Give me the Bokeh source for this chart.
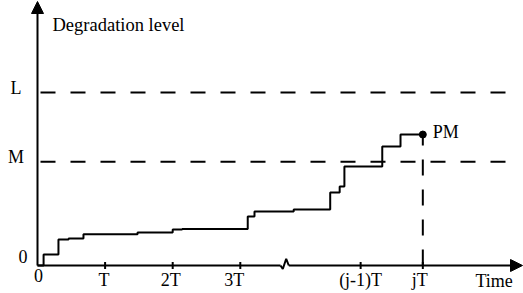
from bokeh.plotting import figure
from bokeh.models import Arrow, NormalHead, LabelSet, ColumnDataSource
from bokeh.core.properties import value
from bokeh.embed import file_html
from bokeh.resources import INLINE
import numpy as np

# ---- data ----
step_t = [0, 0.09, 0.31, 0.46, 0.68, 1.48, 2.00, 2.14, 3.11, 3.21, 3.79, 4.33, 4.47, 4.54, 5.10, 5.37, 5.70]
step_level = [0, 6.4, 15.0, 15.6, 18.0, 19.1, 20.8, 21.1, 28.3, 31.2, 32.4, 42.2, 45.7, 57.2, 68.8, 75.7, 75.7]
tick_pos = [1, 2, 3, 4.78, 5.70]
tick_labels = ["T", "2T", "3T", "(j-1)T", "jT"]
threshold_levels = [100, 60]
threshold_labels = ["L", "M"]
pm_label = "PM"
y_title = "Degradation level"
x_title = "Time"

# ---- layout (pixel scale) ----
W, H = 523, 293
PX_T = 67.6        # pixels per T
PX_L = 1.73        # pixels per level unit
OX, OY = 37, 265   # origin inside figure (px)

def tx(px):
    return px / PX_T

def ly(px):
    return px / PX_L

p = figure(width=W, height=H,
           x_range=(-OX / PX_T, (W - OX) / PX_T),
           y_range=((OY - H) / PX_L, OY / PX_L),
           x_axis_location=None, y_axis_location=None,
           toolbar_location=None, output_backend="svg",
           min_border=0, outline_line_color=None,
           background_fill_color="white", border_fill_color="white")
p.grid.grid_line_color = None

FONT = value("Liberation Serif")
FS = value("18px")

def labels(xs, ys, texts, align="center", size=FS):
    src = ColumnDataSource(dict(x=xs, y=ys, text=texts))
    p.add_layout(LabelSet(x="x", y="y", text="text", source=src,
                          text_font=FONT, text_font_size=size,
                          text_align=align, text_baseline="alphabetic",
                          text_color="black"))

# threshold dashed lines
p.segment(x0=[tx(3)] * 2, x1=[tx(471)] * 2, y0=threshold_levels, y1=threshold_levels,
          line_color="black", line_width=2, line_dash="15 15")

# degradation path
p.step(step_t, step_level, mode="after", line_color="black", line_width=2)

# vertical dashed line at jT
last_t, last_l = step_t[-1], step_level[-1]
p.segment(x0=[last_t], x1=[last_t], y0=[0], y1=[last_l],
          line_color="black", line_width=2, line_dash="16 14")
p.scatter([last_t], [last_l], size=7, color="black")

# axes
p.add_layout(Arrow(x_start=0, y_start=0, x_end=0, y_end=ly(264),
                   line_width=2, line_color="black",
                   end=NormalHead(size=12, fill_color="black", line_color="black")))
p.line([0, tx(243)], [0, 0], line_color="black", line_width=2)
p.line([tx(243), tx(245.3), tx(248.7), tx(251.3)], [0, -ly(3.5), ly(6.7), 0],
       line_color="black", line_width=2)
p.add_layout(Arrow(x_start=tx(251.3), y_start=0, x_end=tx(485), y_end=0,
                   line_width=2, line_color="black",
                   end=NormalHead(size=12, fill_color="black", line_color="black")))

# ticks
p.scatter(tick_pos, [0] * len(tick_pos), marker="dash", angle=np.pi / 2, size=7,
          line_color="black", line_width=2)

# tick labels
dx = [-1, -2, -6, 0, -3]
labels([t + tx(d) for t, d in zip(tick_pos, dx)], [-ly(20)] * len(tick_pos), tick_labels)
labels([tx(1)], [-ly(16)], ["0"])
labels([tx(-14.5)], [ly(3)], ["0"])
labels([tx(-21.5)] * 2, [v - ly(1) for v in threshold_levels], threshold_labels)
labels([last_t + tx(10)], [last_l - ly(3)], [pm_label], align="left")
labels([tx(15)], [ly(235)], [y_title], align="left", size=value("18.5px"))
labels([tx(438)], [-ly(21)], [x_title], align="left")

open("out.html", "w").write(file_html(p, INLINE))
